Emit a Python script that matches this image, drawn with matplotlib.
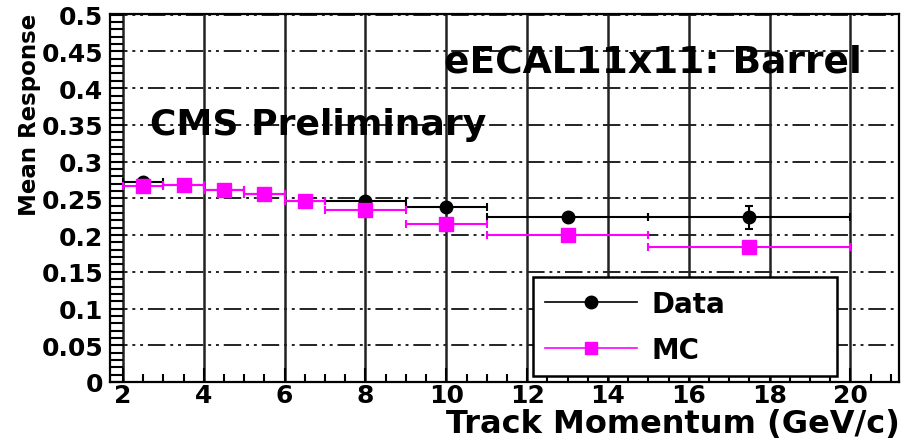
import matplotlib
matplotlib.use("Agg")
import matplotlib.pyplot as plt
from matplotlib.lines import Line2D
from matplotlib.ticker import MultipleLocator

# bins in track momentum (GeV/c)
p_center = [2.5, 3.5, 4.5, 5.5, 6.5, 8.0, 10.0, 13.0, 17.5]
p_halfw = [0.5, 0.5, 0.5, 0.5, 0.5, 1.0, 1.0, 2.0, 2.5]

data_resp = [0.272, 0.268, 0.262, 0.256, 0.247, 0.246, 0.238, 0.224, 0.224]
data_err = [0.002, 0.002, 0.002, 0.002, 0.002, 0.003, 0.003, 0.004, 0.016]

mc_resp = [0.267, 0.268, 0.262, 0.256, 0.247, 0.234, 0.215, 0.200, 0.184]
mc_err = [0.003, 0.003, 0.003, 0.003, 0.003, 0.004, 0.004, 0.004, 0.006]

FONT = "DejaVu Sans"
plt.rcParams["font.family"] = FONT
plt.rcParams["font.weight"] = "bold"

fig = plt.figure(figsize=(9.04, 4.39), dpi=100)
ax = fig.add_axes([110 / 904, 56 / 439, 789 / 904, 368 / 439])

# grid: solid verticals, dash-dot horizontals (ROOT style)
ax.set_axisbelow(True)
ax.xaxis.grid(True, which="major", color="#222222", lw=1.8, ls="-")
ax.yaxis.grid(True, which="major", color="#222222", lw=1.4, ls=(0, (9, 2.5, 1.5, 2.5, 1.5, 2.5)))

ax.errorbar(p_center, data_resp, xerr=p_halfw, yerr=data_err, fmt="o",
            color="black", ms=9, lw=1.5, capsize=3, capthick=1.5, zorder=3)
ax.errorbar(p_center, mc_resp, xerr=p_halfw, yerr=mc_err, fmt="s",
            color="#ff00ff", ms=10, lw=1.5, capsize=3, capthick=1.5, zorder=4)

ax.set_xlim(1.68, 21.2)
ax.set_ylim(0, 0.501)
ax.xaxis.set_major_locator(MultipleLocator(2))
ax.xaxis.set_minor_locator(MultipleLocator(0.5))
ax.yaxis.set_major_locator(MultipleLocator(0.05))
ax.yaxis.set_minor_locator(MultipleLocator(0.01))
ax.yaxis.set_major_formatter(plt.FuncFormatter(lambda v, _: "0" if v == 0 else f"{v:g}"))

ax.tick_params(axis="both", which="both", direction="in", width=1.5, colors="black")
ax.tick_params(axis="x", which="major", length=10, labelsize=18, pad=1)
ax.tick_params(axis="x", which="minor", length=6)
ax.tick_params(axis="y", which="major", length=10, labelsize=18, pad=5)
ax.tick_params(axis="y", which="minor", length=9)
for lab in ax.get_xticklabels() + ax.get_yticklabels():
    lab.set_fontweight("bold")
for sp in ax.spines.values():
    sp.set_linewidth(1.6)

ax.text(0.051, 0.70, "CMS Preliminary", transform=ax.transAxes,
        fontsize=26, fontweight="bold", va="center", ha="left")
ax.text(0.953, 0.87, "eECAL11x11: Barrel", transform=ax.transAxes,
        fontsize=27, fontweight="bold", va="center", ha="right")

handles = [
    Line2D([], [], color="black", marker="o", ms=9, lw=1.2),
    Line2D([], [], color="#ff00ff", marker="s", ms=9, lw=1.2),
]
leg = ax.legend(handles, ["Data", "MC"], loc="lower left",
                bbox_to_anchor=(0.5355, 0.016, 0.3855, 0.27), mode="expand",
                prop={"weight": "bold", "size": 20}, borderaxespad=0,
                handlelength=3.3, handletextpad=0.55, labelspacing=0.65,
                borderpad=0.45, fancybox=False, framealpha=1, edgecolor="black")
leg.get_frame().set_linewidth(1.8)

fig.text(30 / 904, 1 - 14 / 439, "Mean Response", rotation=90, ha="center",
         va="top", fontsize=16.5, fontweight="bold")
fig.text(900 / 904, 1 - 433 / 439, "Track Momentum (GeV/c)", ha="right",
         va="baseline", fontsize=23, fontweight="bold")

fig.savefig("out.png", dpi=100)
